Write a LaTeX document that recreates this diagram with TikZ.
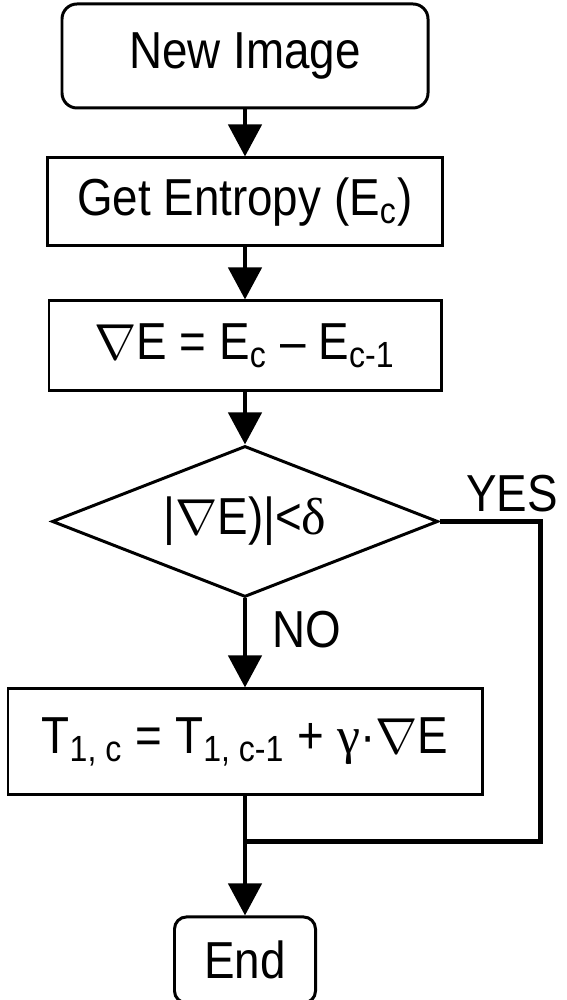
\documentclass[tikz,border=0pt]{standalone}
\usepackage{fontspec}
\setmainfont{Liberation Sans}[FakeStretch=0.88]
\newfontfamily\greekfont{Liberation Serif}
\usetikzlibrary{positioning, arrows.meta, shapes.geometric}

\newcommand{\grk}[1]{{\greekfont #1}}

\begin{document}
\begin{tikzpicture}[
    font=\fontsize{14.8}{17}\selectfont,
    startstop/.style={rectangle, rounded corners=0.15cm, draw, line width=0.85pt, inner sep=0pt},
    process/.style={rectangle, draw, line width=0.85pt, inner sep=0pt},
    decision/.style={diamond, draw, line width=0.85pt, inner sep=0pt, aspect=2.56},
    arrow/.style={-{Triangle[length=0.32cm, width=0.33cm]}, line width=1.3pt},
    link/.style={line width=1.3pt},
    tag/.style={inner sep=0pt},
]
\useasboundingbox (0,0) rectangle (5.67,-10);

% Start
\node[startstop, minimum width=3.66cm, minimum height=1.04cm] (new) at (2.45,-0.56) {New Image};

% Entropy
\node[process, minimum width=3.95cm, minimum height=0.88cm, below=0.47cm of new] (get) {Get Entropy (E\textsubscript{c})};

% Gradient
\node[process, minimum width=3.92cm, minimum height=0.9cm, below=0.52cm of get] (grad) {$\nabla$E = E\textsubscript{c} -- E\textsubscript{c-1}};

% Threshold test
\node[decision, minimum width=3.86cm, minimum height=1.51cm, below=0.52cm of grad] (check) {|$\nabla$E)|<\grk{δ}};

% Update
\node[process, minimum width=4.74cm, minimum height=1.06cm, below=0.89cm of check] (upd) {T\textsubscript{1, c} = T\textsubscript{1, c-1} + \grk{γ}·$\nabla$E};

% End
\node[startstop, rounded corners=0.12cm, minimum width=1.41cm, minimum height=0.86cm, below=1.19cm of upd] (stop) {End};

\coordinate[below=0.45cm of upd] (merge);
\coordinate[right=1.01cm of check.east] (rt);

% Arrows
\draw[arrow] (new) -- (get);
\draw[arrow] (get) -- (grad);
\draw[arrow] (grad) -- (check);
\draw[arrow] (check) -- node[tag, pos=0.35, right=0.25cm] {NO} (upd);
\draw[arrow] (upd) -- (stop);
\draw[link] (check.east) -- node[tag, pos=0.72, above=2pt] {YES} (rt) |- (merge);
\end{tikzpicture}
\end{document}
